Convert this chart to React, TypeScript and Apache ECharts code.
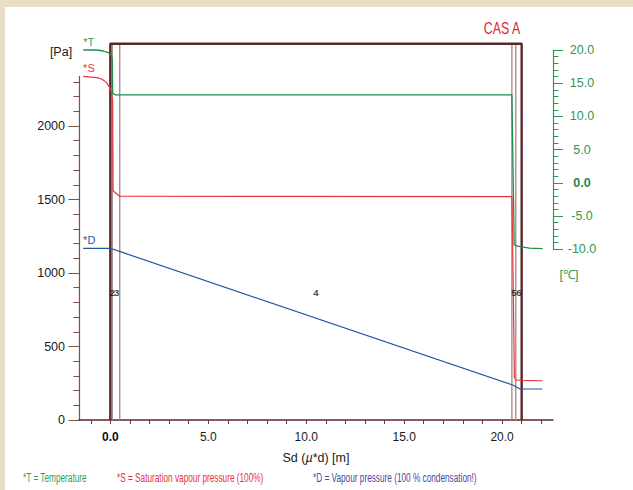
import React, { useEffect, useRef } from 'react';
import * as echarts from 'echarts';

// ---- data ----
// Temperature profile *T [°C] vs Sd [m]
const T_X = [-1.38, -0.68, -0.36, -0.09, 0.05, 0.1, 0.12, 0.25, 20.5, 20.62, 20.75, 21.0, 21.4, 22.07];
const T_VAL = [20.0, 20.0, 19.85, 19.6, 19.25, 18.5, 13.5, 13.25, 13.25, -9.3, -9.5, -9.65, -9.82, -9.9];
// Saturation vapour pressure *S [Pa]
const S_X = [-1.39, -0.68, -0.42, -0.2, -0.04, 0.05, 0.12, 0.14, 0.47, 20.5, 20.53, 20.63, 20.72, 21.0, 22.06];
const S_VAL = [2337, 2329, 2318, 2295, 2263, 2233, 2177, 1560, 1522, 1520, 1293, 286, 272, 270, 267];
// Vapour pressure *D [Pa]
const D_X = [-1.39, 0, 0.51, 20.55, 20.92, 22.06];
const D_VAL = [1168, 1168, 1145, 238, 211, 211];

// layer boundaries in Sd [m]
const OUTER_BOUNDS = [0, 21.0];
const INNER_BOUNDS = [0.1, 0.48, 20.5, 20.7];
const BOX_TOP = 2560;
const LAYER_NAMES = ['2', '3', '4', '5', '6'];
const LAYER_LABEL_X = [0.1, 0.32, 10.5, 20.6, 20.86];
const LAYER_LABEL_P = 864;

// axis ticks
const X_TICKS = [-1, 0, 1, 2, 3, 4, 5, 6, 7, 8, 9, 10, 11, 12, 13, 14, 15, 16, 17, 18, 19, 20, 21, 22];
const X_LABELS = [0, 5, 10, 15, 20];
const P_MINOR_TICKS = [0, 100, 200, 300, 400, 500, 600, 700, 800, 900, 1000, 1100, 1200, 1300, 1400, 1500, 1600, 1700, 1800, 1900, 2000, 2100, 2200, 2300];
const P_LABELS = [0, 500, 1000, 1500, 2000];

const LEGEND = [
  { text: '*T = Temperature', color: '#2f9e55' },
  { text: '*S = Saturation vapour pressure (100%)', color: '#e8323c' },
  { text: '*D = Vapour pressure (100 % condensation!)', color: '#4a4a9e' },
];
const LEGEND_X = [23, 117, 313];

const GREEN = '#1f8c4c';
const RED = '#e8363f';
const BLUE = '#2058a8';
const FONT = "'Liberation Sans', Arial, Helvetica, sans-serif";

export default function App() {
  const ref = useRef<HTMLDivElement | null>(null);

  useEffect(() => {
    if (!ref.current) return;
    const chart = echarts.init(ref.current, undefined, { renderer: 'svg' });

    // layout geometry
    const W = 633, H = 490;
    const axisY = 420; // pixel row of x axis
    const gridTop = 40;
    const pxPerPa = 0.147;
    const pMax = (axisY - gridTop) / pxPerPa;
    const pAxisMax = Math.max(...S_VAL);
    const tTopPx = 50, tBotPx = 249.3; // 20 °C and -10 °C rows
    const pxPerC = (tBotPx - tTopPx) / 30;
    const tMinA = -10 - (axisY - tBotPx) / pxPerC;
    const tMaxA = 20 + (tTopPx - gridTop) / pxPerC;
    const X_MIN = -1.6, X_MAX = 22.6;

    const zip = (xs: number[], ys: number[]) => xs.map((x, i) => [x, ys[i]]);
    const withStartLabel = (pts: number[][], text: string, color: string, distance: number) =>
      pts.map((p, i) =>
        i === 0
          ? {
              value: p,
              label: {
                show: true,
                formatter: text,
                position: 'top',
                align: 'left',
                distance,
                color,
                fontSize: 11,
                fontFamily: FONT,
              },
            }
          : { value: p }
      );

    const fmt1 = (v: number) => (Math.abs(v) < 1e-9 ? '{b|0.0}' : v.toFixed(1));

    const series: any[] = [];
    INNER_BOUNDS.forEach((b) => {
      series.push({
        type: 'line',
        xAxisIndex: 0,
        yAxisIndex: 0,
        data: [[b, 0], [b, BOX_TOP]],
        symbol: 'none',
        lineStyle: { color: '#ab8e8e', width: 1.4 },
        z: 2,
        silent: true,
      });
    });
    series.push({
      type: 'line',
      xAxisIndex: 0,
      yAxisIndex: 0,
      data: [[OUTER_BOUNDS[0], 0], [OUTER_BOUNDS[0], BOX_TOP], [OUTER_BOUNDS[1], BOX_TOP], [OUTER_BOUNDS[1], 0]],
      symbol: 'none',
      lineStyle: { color: '#5a2727', width: 2.4 },
      z: 3,
      silent: true,
    });
    series.push({
      type: 'line',
      xAxisIndex: 0,
      yAxisIndex: 1,
      data: withStartLabel(zip(T_X, T_VAL), '*T', '#2f9e55', 3),
      showSymbol: true,
      symbol: 'circle',
      symbolSize: 0,
      lineStyle: { color: GREEN, width: 1.3 },
      itemStyle: { color: GREEN },
      z: 5,
    });
    series.push({
      type: 'line',
      xAxisIndex: 0,
      yAxisIndex: 0,
      data: withStartLabel(zip(S_X, S_VAL), '*S', RED, 3),
      showSymbol: true,
      symbol: 'circle',
      symbolSize: 0,
      lineStyle: { color: RED, width: 1.2 },
      itemStyle: { color: RED },
      z: 5,
    });
    series.push({
      type: 'line',
      xAxisIndex: 0,
      yAxisIndex: 0,
      data: withStartLabel(zip(D_X, D_VAL), '*D', BLUE, 3),
      showSymbol: true,
      symbol: 'circle',
      symbolSize: 0,
      lineStyle: { color: BLUE, width: 1.2 },
      itemStyle: { color: BLUE },
      z: 5,
    });
    series.push({
      type: 'scatter',
      xAxisIndex: 0,
      yAxisIndex: 0,
      symbolSize: 0,
      data: LAYER_NAMES.map((n, i) => ({ value: [LAYER_LABEL_X[i], LAYER_LABEL_P], name: n })),
      label: {
        show: true,
        position: 'inside',
        formatter: (p: any) => p.name,
        fontSize: 9.5,
        fontWeight: 'bold',
        color: '#111111',
        fontFamily: FONT,
      },
      z: 6,
      silent: true,
    });

    const option: any = {
      animation: false,
      backgroundColor: '#e9ddc6',
      textStyle: { fontFamily: FONT },
      grid: [
        { left: 79, right: W - 553, top: gridTop, bottom: H - axisY },
        { left: 79, right: W - 553, top: axisY - pAxisMax * pxPerPa, bottom: H - axisY },
        { left: 79, right: W - 553, top: tTopPx, bottom: H - tBotPx },
      ],
      xAxis: [
        {
          gridIndex: 0,
          type: 'value',
          min: X_MIN,
          max: X_MAX,
          axisLine: { show: true, onZero: false, lineStyle: { color: '#5a2727', width: 1.5 } },
          axisTick: { show: true, customValues: X_TICKS, length: 4, lineStyle: { color: '#6e3a3a' } },
          axisLabel: {
            customValues: X_LABELS,
            formatter: fmt1,
            margin: 11,
            color: '#1a1a1a',
            fontSize: 12,
            rich: { b: { fontWeight: 'bold', fontSize: 12, color: '#111' } },
          },
          splitLine: { show: false },
          name: '{n|Sd (}{i|µ}{n|*d) [m]}',
          nameLocation: 'middle',
          nameGap: 31,
          nameTextStyle: {
            rich: {
              n: { fontSize: 12.5, color: '#1a1a1a' },
              i: { fontSize: 12.5, color: '#1a1a1a', fontStyle: 'italic' },
            },
          },
        },
        { gridIndex: 1, type: 'value', min: X_MIN, max: X_MAX, show: false, axisLine: { onZero: false } },
        { gridIndex: 2, type: 'value', min: X_MIN, max: X_MAX, show: false, axisLine: { onZero: false } },
      ],
      yAxis: [
        { gridIndex: 0, type: 'value', position: 'left', min: 0, max: pMax, show: false, axisLine: { onZero: false } },
        { gridIndex: 0, type: 'value', position: 'right', min: tMinA, max: tMaxA, show: false, axisLine: { onZero: false } },
        {
          gridIndex: 1,
          type: 'value',
          position: 'left',
          min: 0,
          max: pAxisMax,
          axisLine: { show: true, onZero: false, lineStyle: { color: '#7d4c4c', width: 1.2 } },
          axisTick: { show: true, customValues: P_MINOR_TICKS, length: 5.5, lineStyle: { color: '#7d4c4c' } },
          axisLabel: { show: false },
          splitLine: { show: false },
        },
        {
          gridIndex: 1,
          type: 'value',
          position: 'left',
          min: 0,
          max: pAxisMax,
          axisLine: { show: false, onZero: false },
          axisTick: { show: true, customValues: P_LABELS, length: 10.5, lineStyle: { color: '#7d4c4c' } },
          axisLabel: {
            customValues: P_LABELS,
            margin: 14,
            color: '#1a1a1a',
            fontSize: 12.5,
            formatter: (v: number) => String(v),
          },
          splitLine: { show: false },
        },
        {
          gridIndex: 2,
          type: 'value',
          position: 'right',
          min: -10,
          max: 20,
          interval: 5,
          axisLine: { show: true, onZero: false, lineStyle: { color: '#2a9a58', width: 1.2 } },
          axisTick: { show: true, length: 10, lineStyle: { color: '#2a9a58' } },
          minorTick: { show: true, splitNumber: 5, length: 5.5, lineStyle: { color: '#2a9a58' } },
          axisLabel: {
            formatter: fmt1,
            align: 'center',
            margin: 29,
            color: '#2a9a58',
            fontSize: 12.5,
            rich: { b: { fontWeight: 'bold', fontSize: 12.5, color: '#1e8a4a' } },
          },
          splitLine: { show: false },
          minorSplitLine: { show: false },
        },
      ],
      graphic: [
        {
          type: 'rect',
          z: -100,
          silent: true,
          shape: { x: 5, y: 7, width: W, height: H },
          style: { fill: '#ffffff' },
        },
        {
          type: 'text',
          x: 61,
          y: 52,
          style: { text: '[Pa]', fontSize: 12.5, fill: '#1a1a1a', align: 'center', verticalAlign: 'middle', fontFamily: FONT },
        },
        {
          type: 'text',
          x: 569,
          y: 275,
          style: { text: '[℃]', fontSize: 12.5, fill: '#2a9a58', align: 'center', verticalAlign: 'middle', fontFamily: FONT },
        },
        {
          type: 'text',
          x: 502,
          y: 28,
          scaleX: 0.75,
          style: { text: 'CAS A', fontSize: 16.5, fill: '#d6282f', align: 'center', verticalAlign: 'middle', fontFamily: FONT },
        },
        ...LEGEND.map((l, i) => ({
          type: 'text',
          x: LEGEND_X[i],
          y: 477,
          scaleX: 0.66,
          style: { text: l.text, fontSize: 12.5, fill: l.color, align: 'left', verticalAlign: 'middle', fontFamily: FONT },
        })),
      ],
      series,
    };

    chart.setOption(option);
    return () => chart.dispose();
  }, []);

  return (
    <div style={{ position: 'fixed', left: 0, top: 0, width: 633, height: 490 }}>
      <div ref={ref} style={{ width: 633, height: 490 }} />
    </div>
  );
}
